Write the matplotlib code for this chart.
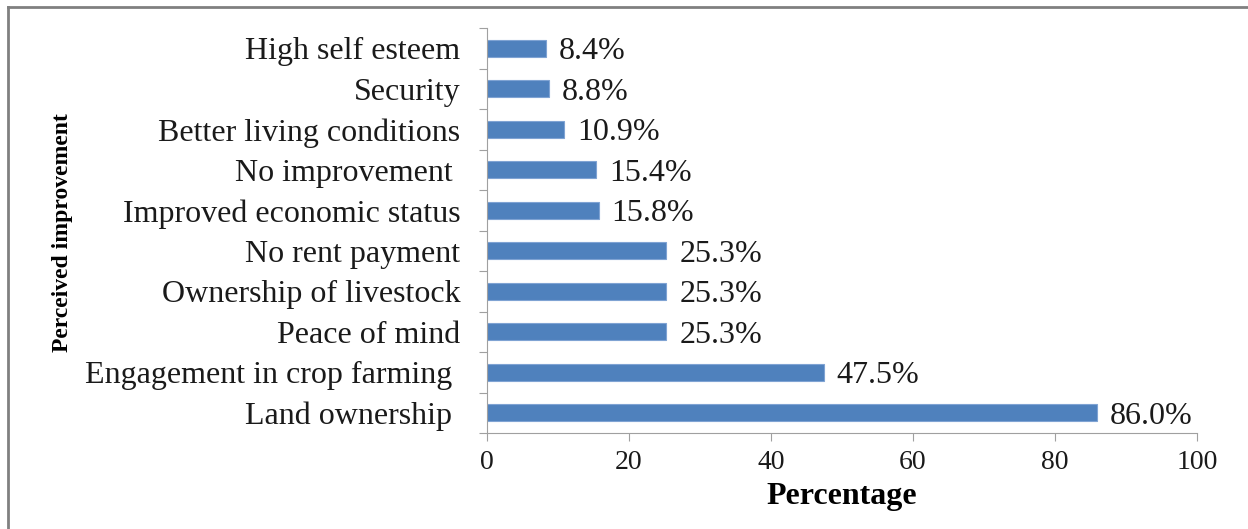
import matplotlib
matplotlib.use("Agg")
import matplotlib.pyplot as plt
from matplotlib.lines import Line2D

plt.rcParams['font.family'] = ['Liberation Serif', 'DejaVu Serif']

# data, bottom to top as drawn
categories = ["Land ownership ", "Engagement in crop farming ", "Peace of mind",
              "Ownership of livestock", "No rent payment", "Improved economic status",
              "No improvement ", "Better living conditions", "Security", "High self esteem"]
values = [86.0, 47.5, 25.3, 25.3, 25.3, 15.8, 15.4, 10.9, 8.8, 8.4]
xticks = [0, 20, 40, 60, 80, 100]

fig = plt.figure(figsize=(12.48, 5.29), dpi=100)
ax = fig.add_axes([0.390, 0.181, 0.569, 0.766])

pos = list(range(len(categories)))
ax.barh(pos, values, height=0.42, color='#4F81BD', edgecolor='#7FA3D3', linewidth=0.8)

for p, v in zip(pos, values):
    ax.text(v + 1.8, p, "%.1f%%" % v, va='center_baseline', ha='left', fontsize=23, color='#1a1a1a')

ax.set_xlim(0, 100)
ax.set_ylim(-0.5, len(categories) - 0.5)
ax.set_xticks(xticks)
ax.set_yticks([p - 0.5 for p in pos] + [len(categories) - 0.5])
ax.set_yticklabels([])
ax.set_yticks(pos, minor=True)
ax.set_yticklabels(categories, minor=True, va='center_baseline')
ax.tick_params(axis='y', which='minor', length=0, pad=19, labelsize=23, labelcolor='#1a1a1a')
ax.tick_params(axis='y', which='major', length=6, color='#a0a0a0')
ax.tick_params(axis='x', length=6, color='#a0a0a0', labelsize=20, labelcolor='#1a1a1a', pad=6)

for s in ['top', 'right']:
    ax.spines[s].set_visible(False)
for s in ['left', 'bottom']:
    ax.spines[s].set_color('#a0a0a0')

ax.set_xlabel("Percentage", fontsize=23, fontweight='bold', labelpad=5)
fig.text(0.050, 0.56, "Perceived improvement", rotation=90, fontsize=17,
         fontweight='bold', ha='center', va='center')

# frame of the original picture (top and left edges only)
fig.add_artist(Line2D([0.0065, 1.0], [0.987, 0.987], transform=fig.transFigure, color='#808080', lw=2))
fig.add_artist(Line2D([0.0065, 0.0065], [0.0, 0.987], transform=fig.transFigure, color='#808080', lw=2))

fig.savefig("out.png", dpi=100)
